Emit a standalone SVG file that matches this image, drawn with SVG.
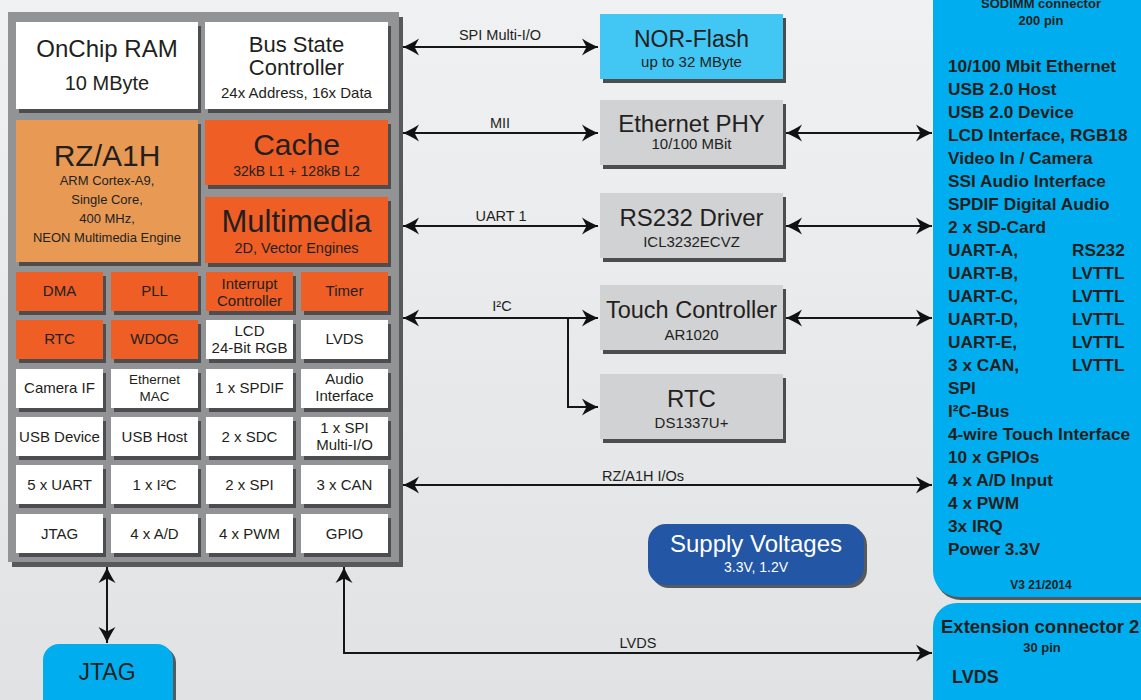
<svg xmlns="http://www.w3.org/2000/svg" width="1141" height="700" viewBox="0 0 1141 700">
<defs>
<linearGradient id="bg" x1="0" y1="0" x2="0" y2="1"><stop offset="0" stop-color="#f0f1f2"/><stop offset="1" stop-color="#e1e2e4"/></linearGradient>
<marker id="ah" viewBox="-17 -10 18 20" refX="0" refY="0" markerWidth="18" markerHeight="20" markerUnits="userSpaceOnUse" orient="auto-start-reverse"><path d="M0,0 C-5,-2 -11,-5 -16,-8.5 L-11.5,0 L-16,8.5 C-11,5 -5,2 0,0Z" fill="#111"/></marker>
<style>
.t{font-family:"Liberation Sans",Arial,sans-serif;fill:#231f20;text-anchor:middle}
.b{font-family:"Liberation Sans",Arial,sans-serif;font-weight:bold;fill:#231f20}
.sh{fill:#4d4d4f}
.w{fill:#fff}
.o{fill:#ee5e25}
.g{fill:#d1d2d3}
.ln{fill:none;stroke:#161616;stroke-width:2}
.s15{font-size:15px}
.s14{font-size:14px}
.s24{font-size:24px}
.l{font-size:14.5px}
.r{font-size:17.3px}
</style>
</defs>
<rect width="1141" height="700" fill="url(#bg)"/>

<g id="chip">
<rect x="12" y="17" width="391" height="550" fill="#59595b"/>
<rect x="8" y="12" width="391" height="550" fill="#929394"/>
</g>

<g id="onchip-ram"><rect class="sh" x="19" y="26" width="182" height="87"/><rect class="w" x="16" y="22" width="182" height="87"/>
<text class="t" x="107" y="57" font-size="24">OnChip RAM</text><text class="t" x="107" y="90" font-size="20">10 MByte</text></g>
<g id="bus-state"><rect class="sh" x="208" y="26" width="183" height="87"/><rect class="w" x="205" y="22" width="183" height="87"/>
<text class="t" x="296.5" y="52" font-size="22">Bus State</text><text class="t" x="296.5" y="75" font-size="22">Controller</text><text class="t" x="296.5" y="98" font-size="15">24x Address, 16x Data</text></g>
<g id="rza1h"><rect class="sh" x="19" y="124" width="182" height="142"/><rect x="16" y="120" width="182" height="142" fill="#e89a55"/>
<text class="t" x="107" y="166" font-size="30">RZ/A1H</text>
<text class="t" x="107" y="185" font-size="13">ARM Cortex-A9,</text><text class="t" x="107" y="204" font-size="13">Single Core,</text><text class="t" x="107" y="223" font-size="13">400 MHz,</text><text class="t" x="107" y="242" font-size="13">NEON Multimedia Engine</text></g>
<g id="cache"><rect class="sh" x="208" y="124" width="183" height="65"/><rect class="o" x="205" y="120" width="183" height="65"/>
<text class="t" x="296.5" y="155" font-size="30">Cache</text><text class="t" x="296.5" y="176" font-size="14">32kB L1 + 128kB L2</text></g>
<g id="multimedia"><rect class="sh" x="208" y="201" width="183" height="66"/><rect class="o" x="205" y="197" width="183" height="66"/>
<text class="t" x="296.5" y="232" font-size="31">Multimedia</text><text class="t" x="296.5" y="253" font-size="14.5">2D, Vector Engines</text></g>

<g id="dma"><rect class="sh" x="19" y="276" width="87" height="39"/><rect class="o" x="16" y="272" width="87" height="39"/><text class="t s15" x="59.5" y="296">DMA</text></g>
<g id="pll"><rect class="sh" x="114" y="276" width="87" height="39"/><rect class="o" x="111" y="272" width="87" height="39"/><text class="t s15" x="154.5" y="296">PLL</text></g>
<g id="irq"><rect class="sh" x="209" y="276" width="87" height="39"/><rect class="o" x="206" y="272" width="87" height="39"/><text class="t s15" x="249.5" y="289">Interrupt</text><text class="t s15" x="249.5" y="306">Controller</text></g>
<g id="timer"><rect class="sh" x="304" y="276" width="87" height="39"/><rect class="o" x="301" y="272" width="87" height="39"/><text class="t s15" x="344.5" y="296">Timer</text></g>

<g id="rtc-int"><rect class="sh" x="19" y="324" width="87" height="39"/><rect class="o" x="16" y="320" width="87" height="39"/><text class="t s15" x="59.5" y="344">RTC</text></g>
<g id="wdog"><rect class="sh" x="114" y="324" width="87" height="39"/><rect class="o" x="111" y="320" width="87" height="39"/><text class="t s15" x="154.5" y="344">WDOG</text></g>
<g id="lcd"><rect class="sh" x="209" y="324" width="87" height="39"/><rect class="w" x="206" y="320" width="87" height="39"/><text class="t s15" x="249.5" y="336">LCD</text><text class="t s15" x="249.5" y="353">24-Bit RGB</text></g>
<g id="lvds-int"><rect class="sh" x="304" y="324" width="87" height="39"/><rect class="w" x="301" y="320" width="87" height="39"/><text class="t s15" x="344.5" y="344">LVDS</text></g>

<g id="camera"><rect class="sh" x="19" y="373" width="87" height="39"/><rect class="w" x="16" y="369" width="87" height="39"/><text class="t s15" x="59.5" y="393">Camera IF</text></g>
<g id="eth-mac"><rect class="sh" x="114" y="373" width="87" height="39"/><rect class="w" x="111" y="369" width="87" height="39"/><text class="t" font-size="13.5" x="154.5" y="384">Ethernet</text><text class="t" font-size="13.5" x="154.5" y="401">MAC</text></g>
<g id="spdif"><rect class="sh" x="209" y="373" width="87" height="39"/><rect class="w" x="206" y="369" width="87" height="39"/><text class="t s15" x="249.5" y="393">1 x SPDIF</text></g>
<g id="audio"><rect class="sh" x="304" y="373" width="87" height="39"/><rect class="w" x="301" y="369" width="87" height="39"/><text class="t s15" x="344.5" y="384">Audio</text><text class="t s15" x="344.5" y="401">Interface</text></g>

<g id="usb-dev"><rect class="sh" x="19" y="421" width="87" height="39"/><rect class="w" x="16" y="417" width="87" height="39"/><text class="t s15" x="59.5" y="442">USB Device</text></g>
<g id="usb-host"><rect class="sh" x="114" y="421" width="87" height="39"/><rect class="w" x="111" y="417" width="87" height="39"/><text class="t s15" x="154.5" y="442">USB Host</text></g>
<g id="sdc"><rect class="sh" x="209" y="421" width="87" height="39"/><rect class="w" x="206" y="417" width="87" height="39"/><text class="t s15" x="249.5" y="442">2 x SDC</text></g>
<g id="spi-mio"><rect class="sh" x="304" y="421" width="87" height="39"/><rect class="w" x="301" y="417" width="87" height="39"/><text class="t s15" x="344.5" y="433">1 x SPI</text><text class="t s15" x="344.5" y="450">Multi-I/O</text></g>

<g id="uart"><rect class="sh" x="19" y="469" width="87" height="39"/><rect class="w" x="16" y="465" width="87" height="39"/><text class="t s15" x="59.5" y="490">5 x UART</text></g>
<g id="i2c-int"><rect class="sh" x="114" y="469" width="87" height="39"/><rect class="w" x="111" y="465" width="87" height="39"/><text class="t s15" x="154.5" y="490">1 x I²C</text></g>
<g id="spi"><rect class="sh" x="209" y="469" width="87" height="39"/><rect class="w" x="206" y="465" width="87" height="39"/><text class="t s15" x="249.5" y="490">2 x SPI</text></g>
<g id="can"><rect class="sh" x="304" y="469" width="87" height="39"/><rect class="w" x="301" y="465" width="87" height="39"/><text class="t s15" x="344.5" y="490">3 x CAN</text></g>

<g id="jtag-int"><rect class="sh" x="19" y="518" width="87" height="39"/><rect class="w" x="16" y="514" width="87" height="39"/><text class="t s15" x="59.5" y="539">JTAG</text></g>
<g id="ad"><rect class="sh" x="114" y="518" width="87" height="39"/><rect class="w" x="111" y="514" width="87" height="39"/><text class="t s15" x="154.5" y="539">4 x A/D</text></g>
<g id="pwm"><rect class="sh" x="209" y="518" width="87" height="39"/><rect class="w" x="206" y="514" width="87" height="39"/><text class="t s15" x="249.5" y="539">4 x PWM</text></g>
<g id="gpio"><rect class="sh" x="304" y="518" width="87" height="39"/><rect class="w" x="301" y="514" width="87" height="39"/><text class="t s15" x="344.5" y="539">GPIO</text></g>

<g id="nor-flash"><rect class="sh" x="603" y="18" width="183" height="65"/><rect x="600" y="14" width="183" height="65" fill="#42c6f3"/>
<text class="t" x="691.5" y="47" font-size="23">NOR-Flash</text><text class="t s15" x="691.5" y="67">up to 32 MByte</text></g>
<g id="eth-phy"><rect class="sh" x="603" y="104" width="183" height="65"/><rect class="g" x="600" y="100" width="183" height="65"/>
<text class="t s24" x="691.5" y="132">Ethernet PHY</text><text class="t s15" x="691.5" y="149">10/100 MBit</text></g>
<g id="rs232"><rect class="sh" x="603" y="197" width="183" height="65"/><rect class="g" x="600" y="193" width="183" height="65"/>
<text class="t s24" x="691.5" y="226">RS232 Driver</text><text class="t s15" x="691.5" y="247">ICL3232ECVZ</text></g>
<g id="touch"><rect class="sh" x="603" y="289" width="183" height="65"/><rect class="g" x="600" y="285" width="183" height="65"/>
<text class="t" font-size="23.5" x="691.5" y="318">Touch Controller</text><text class="t s15" x="691.5" y="340">AR1020</text></g>
<g id="rtc"><rect class="sh" x="603" y="378" width="183" height="65"/><rect class="g" x="600" y="374" width="183" height="65"/>
<text class="t" font-size="24" x="691.5" y="407">RTC</text><text class="t s15" x="691.5" y="428">DS1337U+</text></g>

<g id="supply"><rect x="651" y="527" width="216" height="61" rx="18" fill="#58595b"/><rect x="648" y="524" width="216" height="61" rx="18" fill="#2356a4"/>
<text class="t" x="756" y="552" font-size="24" style="fill:#fff">Supply Voltages</text><text class="t s14" x="756" y="572" style="fill:#fff">3.3V, 1.2V</text></g>

<g id="jtag"><rect x="46" y="647" width="130" height="80" rx="16" fill="#58595b"/><rect x="43" y="644" width="130" height="80" rx="16" fill="#00aeef"/>
<text class="t" x="107" y="680" font-size="23">JTAG</text></g>

<g id="sodimm"><rect x="935" y="-40" width="260" height="640" rx="26" fill="#58595b"/><rect x="933" y="-40" width="260" height="637" rx="26" fill="#00aeef"/>
<text class="b" x="1041" y="8" font-size="13" text-anchor="middle">SODIMM connector</text>
<text class="b" x="1041" y="25" font-size="13" text-anchor="middle">200 pin</text>
<g class="b r">
<text x="948" y="72">10/100 Mbit Ethernet</text>
<text x="948" y="95">USB 2.0 Host</text>
<text x="948" y="118">USB 2.0 Device</text>
<text x="948" y="141">LCD Interface, RGB18</text>
<text x="948" y="164">Video In / Camera</text>
<text x="948" y="187">SSI Audio Interface</text>
<text x="948" y="210">SPDIF Digital Audio</text>
<text x="948" y="233">2 x SD-Card</text>
<text x="948" y="256">UART-A,</text><text x="1072" y="256">RS232</text>
<text x="948" y="279">UART-B,</text><text x="1072" y="279">LVTTL</text>
<text x="948" y="302">UART-C,</text><text x="1072" y="302">LVTTL</text>
<text x="948" y="325">UART-D,</text><text x="1072" y="325">LVTTL</text>
<text x="948" y="348">UART-E,</text><text x="1072" y="348">LVTTL</text>
<text x="948" y="371">3 x CAN,</text><text x="1072" y="371">LVTTL</text>
<text x="948" y="394">SPI</text>
<text x="948" y="417">I²C-Bus</text>
<text x="948" y="440">4-wire Touch Interface</text>
<text x="948" y="463">10 x GPIOs</text>
<text x="948" y="486">4 x A/D Input</text>
<text x="948" y="509">4 x PWM</text>
<text x="948" y="532">3x IRQ</text>
<text x="948" y="555">Power 3.3V</text>
</g>
<text class="b" x="1041" y="589" font-size="12" text-anchor="middle">V3 21/2014</text></g>

<g id="extension"><rect x="933" y="603" width="260" height="150" rx="24" fill="#00aeef"/>
<text class="b" x="941" y="633" font-size="18.5">Extension connector 2</text>
<text class="b" x="1042" y="652" font-size="13" text-anchor="middle">30 pin</text>
<text class="b" x="952" y="683" font-size="18">LVDS</text></g>

<g id="connectors">
<path class="ln" d="M403,47 H598" marker-start="url(#ah)" marker-end="url(#ah)"/>
<path class="ln" d="M403,133 H598" marker-start="url(#ah)" marker-end="url(#ah)"/>
<path class="ln" d="M403,226 H598" marker-start="url(#ah)" marker-end="url(#ah)"/>
<path class="ln" d="M403,318 H598" marker-start="url(#ah)" marker-end="url(#ah)"/>
<path class="ln" d="M568,318 V407 H598" marker-end="url(#ah)"/>
<path class="ln" d="M403,485 H932" marker-start="url(#ah)" marker-end="url(#ah)"/>
<path class="ln" d="M786,133 H932" marker-start="url(#ah)" marker-end="url(#ah)"/>
<path class="ln" d="M786,226 H932" marker-start="url(#ah)" marker-end="url(#ah)"/>
<path class="ln" d="M786,318 H932" marker-start="url(#ah)" marker-end="url(#ah)"/>
<path class="ln" d="M107,567 V643" marker-start="url(#ah)" marker-end="url(#ah)"/>
<path class="ln" d="M932,653 H344 V567" marker-start="url(#ah)" marker-end="url(#ah)"/>
<text class="t l" x="500" y="40">SPI Multi-I/O</text>
<text class="t l" x="500" y="128">MII</text>
<text class="t l" x="501" y="221">UART 1</text>
<text class="t l" x="502" y="311">I²C</text>
<text class="t l" x="643" y="481">RZ/A1H I/Os</text>
<text class="t l" x="638" y="648">LVDS</text>
</g>
</svg>
